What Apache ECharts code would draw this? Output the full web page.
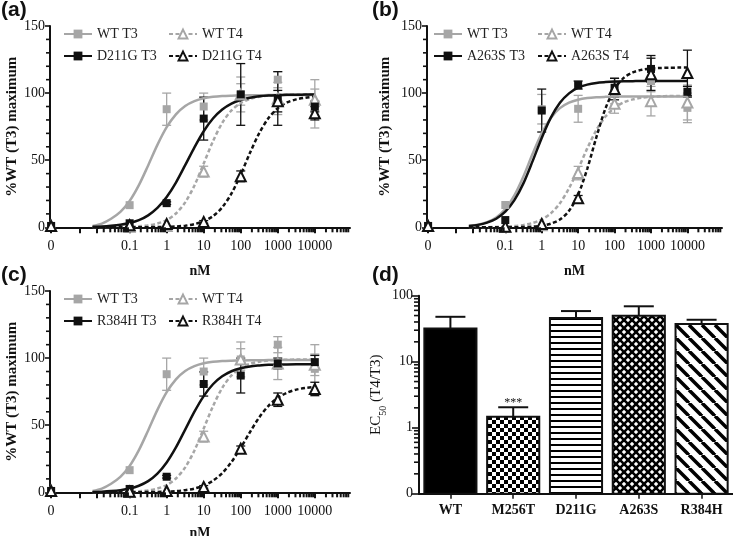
<!DOCTYPE html>
<html>
<head>
<meta charset="utf-8">
<title>TR T3/T4 dose response</title>
<script src="https://cdn.jsdelivr.net/npm/echarts@6.0.0/dist/echarts.min.js"></script>
<style>
	html, body { margin: 0; padding: 0; background: #fff; }
	#main { width: 733px; height: 536px; }
</style>
</head>
<body>
<div id="main"></div>
<script type="text/javascript">
	// doses (nM); 0 is drawn on the broken part of the log axis
	var doses = [0, 0.1, 1, 10, 100, 1000, 10000];
	var zeroPos = -3.12;
	var xMin = -3.15, xMax = 4.95;
	var xLabelVals = [-3.12, -1, 0, 1, 2, 3, 4];
	var xMajorTicks = [-3.12, -2.35, -1.9, -1, 0, 1, 2, 3, 4];
	var curveLogX = [-2, -1.75, -1.5, -1.25, -1, -0.75, -0.5, -0.25, 0, 0.25, 0.5, 0.75, 1, 1.25, 1.5, 1.75, 2, 2.25, 2.5, 2.75, 3, 3.25, 3.5, 3.75, 4];

	// WT (panels a and c)
	var wtT3 = [1, 16.5, 88, 90, 99, 110, 92];
	var wtT3Err = [0, 0, 12, 10, 8, 6, 18];
	var wtT3Fit = [1.0, 2.8, 6.4, 11.5, 19.6, 31.4, 46.1, 61.4, 74.6, 84.2, 90.4, 94.0, 96.1, 97.2, 97.8, 98.1, 98.3, 98.4, 98.4, 98.5, 98.5, 98.5, 98.5, 98.5, 98.5];
	var wtT4 = [1, 0.5, 1, 41.5, 99, 96, 95];
	var wtT4Err = [0, 0, 0, 4, 13, 12, 8];
	var wtT4Fit = [0, 0.1, 0.1, 0.2, 0.4, 0.7, 1.4, 2.8, 5.4, 10.3, 18.6, 31.2, 47.5, 64.1, 77.8, 87.1, 92.6, 95.7, 97.3, 98.2, 98.6, 98.8, 98.9, 99, 99];

	// (a) D211G
	var d211gT3 = [1, 3, 18, 81, 99, 96, 90];
	var d211gT3Err = [0, 0, 1, 16, 23, 20, 4];
	var d211gT3Fit = [0.4, 0.6, 1.1, 1.9, 3.2, 5.3, 8.9, 14.4, 22.5, 33.3, 46.3, 59.6, 71.6, 81.1, 87.8, 92.2, 94.9, 96.6, 97.6, 98.2, 98.5, 98.7, 98.8, 98.9, 99.0];
	var d211gT4 = [1, 1.5, 2.5, 4, 38, 94, 85];
	var d211gT4Err = [0, 0, 0, 1, 4, 8, 5];
	var d211gT4Fit = [0, 0, 0, 0, 0, 0.1, 0.1, 0.2, 0.3, 0.6, 1.2, 2.4, 4.5, 8.3, 14.9, 25.2, 39.4, 55.5, 70.2, 81.4, 88.7, 93.0, 95.3, 96.6, 97.3];

	// (b) WT and A263S
	var wtT3B = [1, 16.6, 88, 88.3, 100, 109, 89];
	var wtT3BErr = [0, 0, 11, 10, 8, 8, 11];
	var wtT3BFit = [1.0, 1.9, 3.8, 7.3, 13.6, 23.8, 38.1, 54.8, 70.1, 81.5, 88.8, 92.9, 95.1, 96.3, 96.9, 97.2, 97.4, 97.5, 97.5, 97.5, 97.5, 97.5, 97.5, 97.5, 97.5];
	var wtT4B = [1, 0.5, 1.5, 40.4, 92, 94, 93];
	var wtT4BErr = [0, 0, 0, 5, 7, 11, 13];
	var wtT4BFit = [0, 0.1, 0.1, 0.3, 0.5, 0.9, 1.7, 3.2, 5.8, 10.4, 17.9, 29.1, 43.4, 58.8, 72.4, 82.5, 89.1, 93.1, 95.3, 96.6, 97.2, 97.6, 97.8, 97.9, 98];
	var a263sT3 = [1, 5.4, 87, 106, 104, 118, 101];
	var a263sT3Err = [0, 0, 16, 3, 7, 10, 4];
	var a263sT3Fit = [1.0, 1.8, 3.5, 6.4, 11.6, 20.2, 32.9, 49.3, 66.6, 81.7, 92.8, 99.8, 104.0, 106.3, 107.6, 108.2, 108.6, 108.8, 108.9, 109, 109, 109, 109, 109, 109];
	var a263sT4 = [1, 0.5, 2.5, 21.7, 103, 114, 115];
	var a263sT4Err = [0, 0, 0, 2, 8, 12, 17];
	var a263sT4Fit = [0, 0, 0, 0, 0.1, 0.1, 0.2, 0.5, 1.2, 2.7, 5.8, 12.3, 24.4, 43.6, 67.1, 88.5, 103.1, 111.3, 115.4, 117.4, 118.3, 118.7, 118.9, 119, 119];

	// (c) R384H
	var r384hT3 = [1, 2.5, 11.6, 80.7, 87, 96, 97];
	var r384hT3Err = [0, 0, 1, 9, 13, 4, 5];
	var r384hT3Fit = [0.3, 0.5, 0.9, 1.6, 2.8, 4.9, 8.3, 13.9, 22.2, 33.4, 46.7, 60.1, 71.7, 80.5, 86.4, 90.2, 92.4, 93.8, 94.5, 95.0, 95.1, 95.3, 95.4, 95.4, 95.5];
	var r384hT4 = [1, 0.5, 1, 4, 32.5, 69, 77];
	var r384hT4Err = [0, 0, 0, 1, 2, 5, 5];
	var r384hT4Fit = [0, 0, 0, 0, 0.1, 0.1, 0.2, 0.3, 0.5, 0.9, 1.6, 2.8, 5.0, 8.6, 14.3, 22.6, 33.2, 44.9, 55.8, 64.4, 70.4, 74.2, 76.5, 77.8, 78.5];

	// (d) EC50 ratio
	var mutants = ['WT', 'M256T', 'D211G', 'A263S', 'R384H'];
	var ec50Ratio = [31.9, 1.47, 45.8, 49.6, 37.1];
	var ec50Sem = [16.0, 0.57, 12.7, 19.5, 6.1];
	var ec50Mark = ['', '***', '', '', ''];

	var pctMinorTicks = [10, 20, 30, 40, 60, 70, 80, 90, 110, 120, 130, 140];

	var SERIF = '"Liberation Serif", "Times New Roman", serif';
	var SANS = '"Liberation Sans", Arial, sans-serif';
	var INK = '#111';
	var GRAY = '#a6a6a6';

	// log minor ticks (2..9 of each decade)
	var xMinorTicks = [];
	for (var n = -2; n <= 4; n++) {
		for (var k = 2; k <= 9; k++) {
			var lv = n + Math.log10(k);
			if (lv > -1.75 && lv < 4.95) xMinorTicks.push(lv);
		}
	}
	var dMinorTicks = [];
	for (var m = -1; m <= 1; m++) {
		for (var j = 2; j <= 9; j++) dMinorTicks.push(m + Math.log10(j));
	}

	function xPos(d) { return d === 0 ? zeroPos : Math.log10(d); }

	// minor ticks along the bottom edge (value 0 on y) of a dose panel
	function xTickSeries(gi, vals, len) {
		return {
			type: 'custom', xAxisIndex: gi, yAxisIndex: gi, z: 5, silent: true, clip: false,
			data: vals.map(function (t) { return [t, 0]; }),
			renderItem: function (params, api) {
				var p = api.coord([api.value(0), 0]);
				return { type: 'line', shape: { x1: p[0], y1: p[1], x2: p[0], y2: p[1] + len },
					style: { stroke: INK, lineWidth: 2 } };
			}
		};
	}
	// minor ticks along the left edge of a panel
	function yTickSeries(xi, yi, vals, len, edgeX, bandShift) {
		return {
			type: 'custom', xAxisIndex: xi, yAxisIndex: yi, z: 5, silent: true, clip: false,
			data: vals.map(function (t) { return [edgeX, t]; }),
			renderItem: function (params, api) {
				var p = api.coord([api.value(0), api.value(1)]);
				var x0 = p[0] - (bandShift ? api.size([1, 0])[0] / 2 : 0);
				return { type: 'line', shape: { x1: x0 - len, y1: p[1], x2: x0, y2: p[1] },
					style: { stroke: INK, lineWidth: 1.6 } };
			}
		};
	}

	function errSeries(gi, vals, errs, color) {
		return {
			type: 'custom', xAxisIndex: gi, yAxisIndex: gi, z: 2, silent: true,
			data: doses.map(function (d, i) { return [xPos(d), vals[i], errs[i]]; }),
			renderItem: function (params, api) {
				var e = api.value(2);
				if (!e) return;
				var x = api.value(0), y = api.value(1);
				var hi = api.coord([x, y + e]), lo = api.coord([x, y - e]);
				var hw = 4.5, st = { stroke: color, lineWidth: 1.3 };
				return { type: 'group', children: [
					{ type: 'line', shape: { x1: hi[0], y1: hi[1], x2: lo[0], y2: lo[1] }, style: st },
					{ type: 'line', shape: { x1: hi[0] - hw, y1: hi[1], x2: hi[0] + hw, y2: hi[1] }, style: st },
					{ type: 'line', shape: { x1: lo[0] - hw, y1: lo[1], x2: lo[0] + hw, y2: lo[1] }, style: st }
				] };
			}
		};
	}

	function curveSeries(name, gi, fit, color, tri) {
		return {
			name: name, type: 'line', xAxisIndex: gi, yAxisIndex: gi, z: 3, silent: true,
			data: curveLogX.map(function (x, i) { return [x, fit[i]]; }),
			smooth: 0.3, showSymbol: false,
			symbol: tri ? 'emptyTriangle' : 'rect', symbolSize: 9,
			itemStyle: { color: color },
			lineStyle: { color: color, width: 2.5, type: tri ? [4, 2.5] : 'solid' }
		};
	}

	function pointSeries(gi, vals, color, tri) {
		return {
			type: 'scatter', xAxisIndex: gi, yAxisIndex: gi, z: 4, silent: true,
			data: doses.map(function (d, i) { return [xPos(d), vals[i]]; }),
			symbol: tri ? 'triangle' : 'rect',
			symbolSize: tri ? 10 : 8,
			itemStyle: tri ? { color: '#fff', borderColor: color, borderWidth: 2, opacity: 1 } : { color: color, opacity: 1 }
		};
	}

	var series = [];
	function addPanel(gi, defs) {
		defs.forEach(function (s) { series.push(errSeries(gi, s.vals, s.errs, s.color)); });
		defs.forEach(function (s) { series.push(curveSeries(s.name, gi, s.fit, s.color, s.tri)); });
		defs.forEach(function (s) { series.push(pointSeries(gi, s.vals, s.color, s.tri)); });
		series.push(xTickSeries(gi, xMinorTicks, 5));
		series.push(yTickSeries(gi, gi, pctMinorTicks, 4, xMin, false));
	}

	addPanel(0, [
		{ name: 'WT T3', vals: wtT3, errs: wtT3Err, fit: wtT3Fit, color: GRAY, tri: false },
		{ name: 'WT T4', vals: wtT4, errs: wtT4Err, fit: wtT4Fit, color: GRAY, tri: true },
		{ name: 'D211G T3', vals: d211gT3, errs: d211gT3Err, fit: d211gT3Fit, color: INK, tri: false },
		{ name: 'D211G T4', vals: d211gT4, errs: d211gT4Err, fit: d211gT4Fit, color: INK, tri: true }
	]);
	addPanel(1, [
		{ name: 'WT T3', vals: wtT3B, errs: wtT3BErr, fit: wtT3BFit, color: GRAY, tri: false },
		{ name: 'WT T4', vals: wtT4B, errs: wtT4BErr, fit: wtT4BFit, color: GRAY, tri: true },
		{ name: 'A263S T3', vals: a263sT3, errs: a263sT3Err, fit: a263sT3Fit, color: INK, tri: false },
		{ name: 'A263S T4', vals: a263sT4, errs: a263sT4Err, fit: a263sT4Fit, color: INK, tri: true }
	]);
	addPanel(2, [
		{ name: 'WT T3', vals: wtT3, errs: wtT3Err, fit: wtT3Fit, color: GRAY, tri: false },
		{ name: 'WT T4', vals: wtT4, errs: wtT4Err, fit: wtT4Fit, color: GRAY, tri: true },
		{ name: 'R384H T3', vals: r384hT3, errs: r384hT3Err, fit: r384hT3Fit, color: INK, tri: false },
		{ name: 'R384H T4', vals: r384hT4, errs: r384hT4Err, fit: r384hT4Fit, color: INK, tri: true }
	]);

	// bar fill patterns
	function makePattern(size, draw) {
		var c = document.createElement('canvas');
		c.width = size; c.height = size;
		var g = c.getContext('2d');
		g.fillStyle = '#fff'; g.fillRect(0, 0, size, size);
		g.fillStyle = '#000'; g.strokeStyle = '#000';
		draw(g, size);
		return { image: c, repeat: 'repeat' };
	}
	var barFills = [
		'#000',
		makePattern(8, function (g) { g.fillRect(0, 0, 4, 4); g.fillRect(4, 4, 4, 4); }),
		makePattern(6, function (g) { g.fillRect(0, 0, 6, 2); }),
		makePattern(8, function (g, s) {
			g.lineWidth = 2.6;
			[-s, 0, s].forEach(function (d) {
				g.beginPath(); g.moveTo(d, 0); g.lineTo(d + s, s); g.stroke();
				g.beginPath(); g.moveTo(d + s, 0); g.lineTo(d, s); g.stroke();
			});
		}),
		makePattern(13, function (g, s) {
			g.lineWidth = 3.5;
			[-s, 0, s].forEach(function (d) {
				g.beginPath(); g.moveTo(d, 0); g.lineTo(d + s, s); g.stroke();
			});
		})
	];

	series.push({
		type: 'custom', xAxisIndex: 3, yAxisIndex: 3, z: 2, silent: true,
		data: ec50Ratio.map(function (r, i) { return [i, Math.log10(r)]; }),
		renderItem: function (params, api) {
			var i = api.value(0);
			var top = api.coord([i, api.value(1)]);
			var base = api.coord([i, -1]);
			var w = api.size([1, 0])[0] * 0.83;
			return { type: 'rect', shape: { x: top[0] - w / 2, y: top[1], width: w, height: base[1] - top[1] },
				style: { fill: barFills[i], stroke: INK, lineWidth: 2 } };
		}
	});
	series.push({
		type: 'custom', xAxisIndex: 3, yAxisIndex: 3, z: 3, silent: true,
		data: ec50Ratio.map(function (r, i) { return [i, Math.log10(r), Math.log10(r + ec50Sem[i])]; }),
		renderItem: function (params, api) {
			var i = api.value(0);
			var top = api.coord([i, api.value(1)]);
			var hi = api.coord([i, api.value(2)]);
			var st = { stroke: INK, lineWidth: 2 };
			var kids = [
				{ type: 'line', shape: { x1: top[0], y1: top[1], x2: hi[0], y2: hi[1] }, style: st },
				{ type: 'line', shape: { x1: hi[0] - 15, y1: hi[1], x2: hi[0] + 15, y2: hi[1] }, style: st }
			];
			if (ec50Mark[i]) {
				kids.push({ type: 'text', x: hi[0], y: hi[1] + 2,
					style: { text: ec50Mark[i], align: 'center', verticalAlign: 'bottom', fontSize: 12, fontFamily: SERIF, fill: INK } });
			}
			return { type: 'group', children: kids };
		}
	});
	series.push(yTickSeries(3, 3, dMinorTicks, 5, 0, true));

	function xFmt(v) {
		if (v < -2) return '0';
		return String(Math.pow(10, Math.round(v)));
	}

	function logAxis(gi, gap) {
		return {
			type: 'value', gridIndex: gi, min: xMin, max: xMax, position: 'bottom',
			name: 'nM', nameLocation: 'middle', nameGap: gap,
			nameTextStyle: { fontFamily: SERIF, fontWeight: 'bold', fontSize: 14, color: INK },
			axisLine: { show: true, onZero: false, lineStyle: { color: INK, width: 2 } },
			axisTick: { show: true, customValues: xMajorTicks, length: 6, lineStyle: { color: INK, width: 2 } },
			axisLabel: { customValues: xLabelVals, formatter: xFmt, margin: 12, fontFamily: SERIF, fontSize: 14, color: INK },
			splitLine: { show: false }
		};
	}

	function pctAxis(gi, gap) {
		return {
			type: 'value', gridIndex: gi, min: 0, max: 150, interval: 50, position: 'left',
			name: '%WT (T3) maximum', nameLocation: 'middle', nameGap: gap, nameRotate: 90,
			nameTextStyle: { fontFamily: SERIF, fontWeight: 'bold', fontSize: 15, color: INK },
			axisLine: { show: true, onZero: false, lineStyle: { color: INK, width: 2 } },
			axisTick: { show: true, length: 5, lineStyle: { color: INK, width: 1.6 } },
			axisLabel: { margin: 5, fontFamily: SERIF, fontSize: 14, color: INK },
			splitLine: { show: false }
		};
	}

	function legendCol(left, top, names) {
		return {
			left: left, top: top, orient: 'vertical', data: names, padding: 0,
			itemWidth: 28, itemHeight: 11, itemGap: 8, selectedMode: false,
			textStyle: { fontFamily: SERIF, fontSize: 14, color: '#222' }
		};
	}

	var xAxes = [logAxis(0, 37), logAxis(1, 37), logAxis(2, 34)];
	xAxes.push({
		type: 'category', gridIndex: 3, data: mutants, position: 'bottom',
		axisLine: { show: true, onZero: false, lineStyle: { color: INK, width: 2 } },
		axisTick: { show: true, alignWithLabel: true, length: 5, lineStyle: { color: INK, width: 1.5 } },
		axisLabel: { margin: 10, fontFamily: SERIF, fontWeight: 'bold', fontSize: 14, color: INK }
	});

	var yAxes = [pctAxis(0, 29), pctAxis(1, 34), pctAxis(2, 29)];
	yAxes.push({
		type: 'value', gridIndex: 3, min: -1, max: 2, interval: 1, position: 'left',
		name: '{n|EC}{s|50}{n| (T4/T3)}', nameLocation: 'middle', nameGap: 24, nameRotate: 90,
		nameTextStyle: { color: INK, rich: {
			n: { fontFamily: SERIF, fontSize: 15, color: INK, lineHeight: 20, verticalAlign: 'top' },
			s: { fontFamily: SERIF, fontSize: 10, color: INK, lineHeight: 20, verticalAlign: 'bottom' }
		} },
		axisLine: { show: true, onZero: false, lineStyle: { color: INK, width: 2 } },
		axisTick: { show: true, length: 7, lineStyle: { color: INK, width: 1.6 } },
		axisLabel: { margin: 6, fontFamily: SERIF, fontSize: 14, color: INK,
			formatter: function (v) { return { '-1': '0', '0': '1', '1': '10', '2': '100' }[Math.round(v)]; } },
		splitLine: { show: false }
	});

	var panelLabel = function (txt, left, top) {
		return { type: 'text', left: left, top: top,
			style: { text: txt, fontFamily: SANS, fontWeight: 'bold', fontSize: 21, fill: INK } };
	};

	window.onload = function () {
		var myChart = echarts.init(document.getElementById('main'), null, { renderer: 'canvas' });
		var option = {
			backgroundColor: '#fff',
			animation: false,
			grid: [
				{ left: 50, top: 26, width: 300, height: 201.3, outerBoundsMode: 'none' },
				{ left: 427, top: 26, width: 295, height: 201.3, outerBoundsMode: 'none' },
				{ left: 50, top: 291, width: 300, height: 201.3, outerBoundsMode: 'none' },
				{ left: 419, top: 295.7, width: 314, height: 198, outerBoundsMode: 'none' }
			],
			legend: [
				legendCol(63, 27, ['WT T3', 'D211G T3']),
				legendCol(168, 27, ['WT T4', 'D211G T4']),
				legendCol(433, 27, ['WT T3', 'A263S T3']),
				legendCol(537, 27, ['WT T4', 'A263S T4']),
				legendCol(63, 292, ['WT T3', 'R384H T3']),
				legendCol(168, 292, ['WT T4', 'R384H T4'])
			],
			xAxis: xAxes,
			yAxis: yAxes,
			graphic: [
				panelLabel('(a)', 1, 0),
				panelLabel('(b)', 372, 0),
				panelLabel('(c)', 1, 265),
				panelLabel('(d)', 372, 265)
			],
			series: series
		};
		myChart.setOption(option);
	};
</script>
</body>
</html>
